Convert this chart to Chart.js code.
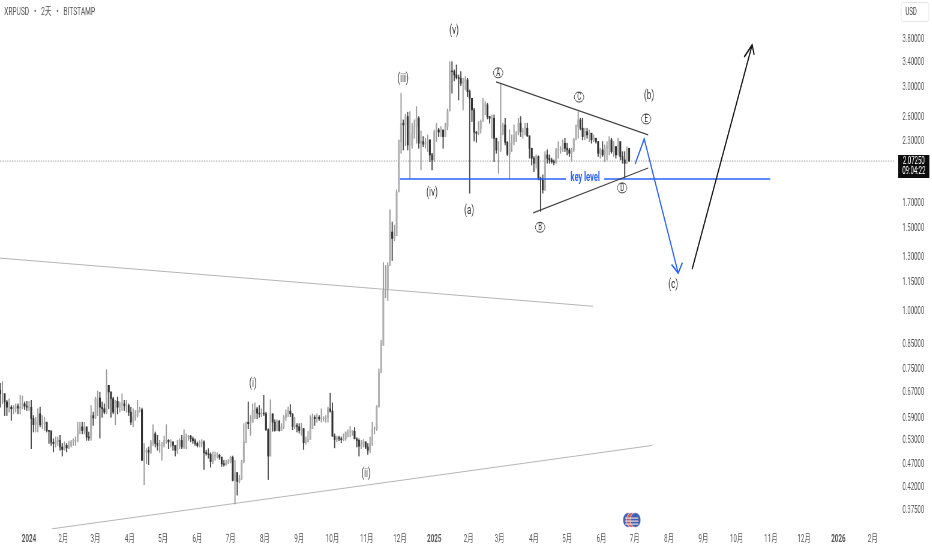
<!DOCTYPE html>
<html>
<head>
<meta charset="utf-8">
<title>XRPUSD</title>
<script src="https://cdn.jsdelivr.net/npm/chart.js@4/dist/chart.umd.min.js"></script>
<style>
html, body { margin: 0; padding: 0; background: #fff; overflow: hidden; width: 932px; height: 550px; }
/* the reference is a horizontally squeezed screenshot, so the whole canvas gets squeezed too */
#wrap { width: 1554px; height: 550px; transform: scaleX(0.6); transform-origin: 0 0; }
</style>
</head>
<body>
<div id="wrap"><canvas id="chart" width="1554" height="550"></canvas></div>
<script>
// x values are days counted from 2024-01-01, bars are 2 days apart
const firstBarDay = -26;
const barStep = 2;
const firstOpen = 0.67;

const highs = [
  .694,.70,.659,.638,.643,.622,.622,.627,.627,.654,
  .652,.633,.635,.635,.638,.592,.587,.612,.617,.592,
  .587,.573,.550,.550,.528,.533,.533,.537,.516,.520,
  .516,.522,.524,.528,.533,.573,.573,.573,.573,.550,
  .546,.622,.602,.648,.668,.664,.633,.627,.742,.687,
  .665,.648,.638,.648,.633,.659,.638,.638,.627,.617,
  .612,.607,.638,.617,.614,.516,.503,.507,.524,.566,
  .546,.537,.524,.519,.535,.566,.526,.526,.520,.511,
  .524,.528,.537,.552,.541,.537,.537,.533,.528,.520,
  .523,.526,.523,.499,.503,.493,.495,.495,.493,.489,
  .483,.475,.475,.477,.485,.485,.475,.447,.441,.475,
  .569,.573,.633,.592,.627,.630,.617,.622,.612,.654,
  .602,.555,.640,.597,.580,.580,.578,.569,.592,.609,
  .617,.625,.597,.587,.569,.569,.570,.555,.533,.548,
  .592,.597,.592,.597,.592,.612,.589,.592,.617,.661,
  .630,.541,.535,.535,.533,.541,.546,.552,.561,.550,
  .558,.531,.528,.524,.526,.520,.516,.533,.573,.560,
  .622,.745,.857,1.257,1.239,1.257,1.630,1.535,1.512,1.798,
  2.30,2.896,2.538,2.61,2.636,2.644,2.497,2.538,2.71,2.58,
  2.404,2.338,2.319,2.357,2.30,2.153,2.416,2.497,2.436,2.456,
  2.404,2.497,2.68,3.38,3.38,3.246,3.327,3.167,3.22,3.115,
  3.14,3.115,2.942,2.822,2.688,2.396,2.517,2.538,2.822,2.777,
  2.755,2.58,2.601,2.601,2.319,2.281,3.04,2.497,2.559,2.281,
  2.416,2.357,2.476,2.396,2.559,2.58,2.436,2.497,2.497,2.346,
  2.207,2.119,2.136,2.127,1.915,1.936,2.171,2.189,2.136,2.102,
  2.084,2.207,2.281,2.225,2.30,2.319,2.263,2.207,2.207,2.319,
  2.476,2.644,2.559,2.559,2.436,2.436,2.416,2.377,2.357,2.319,
  2.281,2.207,2.281,2.244,2.281,2.338,2.319,2.281,2.225,2.319,
  2.153,2.171,2.171,2.225,2.207
];
const lows = [
  .617,.627,.592,.592,.602,.578,.597,.602,.597,.597,
  .612,.610,.607,.607,.503,.546,.546,.546,.560,.555,
  .550,.546,.516,.511,.495,.507,.511,.499,.485,.499,
  .495,.503,.507,.511,.511,.520,.541,.541,.541,.524,
  .524,.524,.564,.583,.592,.530,.587,.597,.597,.612,
  .587,.597,.566,.597,.602,.607,.607,.602,.592,.566,
  .560,.578,.587,.602,.475,.421,.467,.465,.491,.511,
  .507,.499,.494,.475,.507,.516,.503,.507,.499,.485,
  .491,.503,.503,.503,.503,.524,.520,.516,.511,.507,
  .507,.507,.454,.487,.480,.459,.467,.475,.480,.477,
  .461,.461,.463,.467,.469,.429,.383,.400,.425,.432,
  .469,.518,.555,.537,.573,.583,.583,.587,.589,.592,
  .550,.432,.485,.548,.548,.550,.548,.550,.555,.578,
  .589,.589,.552,.555,.546,.543,.537,.501,.514,.524,
  .537,.555,.564,.573,.578,.573,.576,.573,.573,.602,
  .535,.505,.520,.523,.518,.523,.524,.533,.533,.537,
  .528,.507,.485,.503,.507,.503,.489,.493,.511,.541,
  .550,.622,.731,.887,1.058,1.043,1.239,1.27,1.400,1.435,
  1.813,2.153,2.189,2.236,2.189,1.898,2.207,2.319,2.263,2.207,
  1.984,2.225,2.207,2.171,2.067,1.984,2.067,2.281,2.338,2.338,
  2.207,2.338,2.416,2.653,2.896,3.075,3.104,2.80,3.005,2.666,
  2.942,2.846,1.769,2.517,2.289,2.274,2.357,2.377,2.538,2.601,
  2.55,2.497,2.319,2.067,2.153,1.952,2.171,2.357,2.244,2.129,
  1.898,2.171,2.244,2.281,2.357,2.338,2.319,2.357,2.338,2.102,
  2.033,1.968,2.0,1.889,1.617,1.769,1.792,2.05,2.05,2.05,
  2.033,2.05,2.102,2.153,2.171,2.171,2.136,2.119,2.067,2.171,
  2.30,2.319,2.416,2.30,2.30,2.319,2.281,2.263,2.281,2.263,
  2.119,2.102,2.119,2.067,2.084,2.136,2.153,2.119,2.102,2.136,
  2.084,2.05,1.905,2.05,2.067
];
const closes = [
  .659,.659,.633,.617,.617,.612,.614,.620,.614,.617,
  .627,.620,.617,.617,.583,.566,.573,.597,.566,.569,
  .573,.550,.548,.519,.516,.520,.524,.507,.501,.511,
  .505,.511,.519,.524,.524,.550,.560,.550,.560,.533,
  .530,.592,.585,.643,.645,.617,.612,.602,.687,.665,
  .643,.602,.635,.617,.627,.627,.622,.622,.602,.573,
  .587,.592,.607,.609,.475,.495,.499,.494,.520,.541,
  .516,.511,.511,.511,.524,.524,.520,.520,.511,.499,
  .511,.524,.507,.533,.533,.535,.528,.523,.516,.511,
  .516,.520,.493,.491,.489,.472,.485,.487,.487,.482,
  .467,.465,.469,.472,.482,.430,.447,.428,.434,.472,
  .520,.573,.569,.573,.607,.612,.599,.597,.599,.597,
  .552,.485,.597,.573,.550,.576,.550,.560,.586,.597,
  .605,.597,.561,.564,.560,.550,.555,.518,.520,.526,
  .555,.587,.583,.587,.583,.583,.583,.586,.612,.605,
  .535,.526,.531,.528,.526,.528,.546,.546,.546,.548,
  .528,.524,.509,.516,.520,.507,.499,.516,.555,.555,
  .617,.731,.836,1.096,1.107,1.239,1.461,1.416,1.435,1.78,
  2.281,2.497,2.476,2.58,2.244,2.244,2.377,2.456,2.559,2.263,
  2.281,2.252,2.274,2.30,2.136,2.084,2.396,2.416,2.39,2.416,
  2.338,2.456,2.653,3.23,3.22,3.167,3.125,3.115,3.04,3.063,
  3.09,2.918,2.822,2.666,2.39,2.377,2.43,2.517,2.732,2.732,
  2.58,2.559,2.559,2.319,2.189,2.189,2.377,2.476,2.274,2.143,
  2.263,2.274,2.357,2.377,2.497,2.396,2.396,2.436,2.346,2.207,
  2.102,2.05,2.119,1.905,1.889,1.798,2.136,2.102,2.084,2.067,
  2.057,2.189,2.189,2.196,2.263,2.207,2.189,2.153,2.189,2.308,
  2.456,2.538,2.436,2.338,2.396,2.357,2.377,2.30,2.319,2.281,
  2.153,2.189,2.136,2.207,2.225,2.30,2.171,2.225,2.136,2.281,
  2.119,2.084,2.05,2.207,2.0725
];

const lastPrice = 2.0725;
const countdown = '09:04:22';

const priceTicks = [3.8, 3.4, 3.0, 2.6, 2.3, 1.7, 1.5, 1.3, 1.15, 1.0, 0.85, 0.75, 0.67, 0.59, 0.53, 0.47, 0.42, 0.375];
const dayTicks = [0, 31, 60, 91, 121, 152, 182, 213, 244, 274, 305, 335, 366, 397, 425, 456, 486, 517, 547, 578, 609, 639, 670, 700, 731, 762];
const dayTickLabels = ['2024', '2月', '3月', '4月', '5月', '6月', '7月', '8月', '9月', '10月', '11月', '12月', '2025', '2月', '3月', '4月', '5月', '6月', '7月', '8月', '9月', '10月', '11月', '12月', '2026', '2月'];

// drawn lines as [day, price]
const lastPriceLine = [[-26.2, lastPrice], [782.3, lastPrice]];
const keyLevelLeft = [[335.1, 1.897], [485, 1.897]];
const keyLevelRight = [[519.4, 1.897], [669.4, 1.897]];
const triangleUpper = [[421.9, 3.06], [559.2, 2.357]];
const triangleLower = [[455.3, 1.606], [559.2, 2.003]];
const channelUpper = [[-26.2, 1.285], [509.5, 1.014]];
const channelLower = [[20.8, 0.339], [562.8, 0.511]];
const bluePath = [[547.4, 2.043], [555.6, 2.311], [586.3, 1.194]];
const blueHead = [[580.3, 1.245], [586.3, 1.194], [590.1, 1.257]];
const blackPath = [[598.9, 1.218], [653.1, 3.672]];
const blackHead = [[645.9, 3.46], [653.1, 3.672], [654.9, 3.495]];

const waveLabels = ['(v)', '(iii)', '(iv)', '(a)', '(b)', '(c)', '(i)', '(ii)'];
const waveDays = [383.9, 337.8, 364, 397.5, 560, 581.8, 202.3, 304.4];
const wavePrices = [3.93, 3.105, 1.77, 1.625, 2.856, 1.129, 0.694, 0.445];

const circleLabels = ['A', 'B', 'C', 'D', 'E'];
const circleDays = [423.7, 461.6, 496.8, 535.7, 557.4];
const circlePrices = [3.2, 1.496, 2.84, 1.816, 2.55];

const keyLevelText = ['key level', 502.3, 1.905];

const FONT = 'Roboto, "Noto Sans CJK SC", sans-serif';
const UP = '#b0b0b0';
const DOWN = '#333333';
const BLUE = '#2962ff';

const barDays = closes.map((c, i) => firstBarDay + barStep * i);
const opens = closes.map((c, i) => i === 0 ? firstOpen : closes[i - 1]);
const isUp = closes.map((c, i) => c >= opens[i]);

function toXY(points) {
    return points.map(p => ({ x: p[0], y: p[1] }));
}

function lineSet(points, color, width, order, dash) {
    return {
        type: 'line',
        data: toXY(points),
        borderColor: color,
        borderWidth: width,
        borderDash: dash || [],
        pointRadius: 0,
        tension: 0,
        fill: false,
        clip: false,
        order: order
    };
}

const textPlugin = {
    id: 'textPlugin',
    afterDraw(chart) {
        const ctx = chart.ctx;
        const xs = chart.scales.x;
        const ys = chart.scales.y;

        ctx.save();
        ctx.textBaseline = 'middle';

        // header
        ctx.textAlign = 'left';
        ctx.fillStyle = '#555';
        ctx.font = '11px ' + FONT;
        ctx.fillText('XRPUSD   •   2天   •   BITSTAMP', 7, 12);

        // wave labels
        ctx.textAlign = 'center';
        ctx.fillStyle = '#333';
        ctx.font = '13.5px ' + FONT;
        waveLabels.forEach((t, i) => {
            ctx.fillText(t, xs.getPixelForValue(waveDays[i]), ys.getPixelForValue(wavePrices[i]));
        });

        // circled triangle labels
        ctx.font = '10px ' + FONT;
        circleLabels.forEach((t, i) => {
            const x = xs.getPixelForValue(circleDays[i]);
            const y = ys.getPixelForValue(circlePrices[i]);
            ctx.beginPath();
            ctx.ellipse(x, y, 8, 5, 0, 0, Math.PI * 2);
            ctx.strokeStyle = '#333';
            ctx.lineWidth = 0.9;
            ctx.stroke();
            ctx.fillText(t, x, y + 0.5);
        });

        ctx.fillStyle = BLUE;
        ctx.font = 'bold 12.5px ' + FONT;
        ctx.fillText(keyLevelText[0], xs.getPixelForValue(keyLevelText[1]), ys.getPixelForValue(keyLevelText[2]));

        // USD box
        ctx.strokeStyle = '#e6e6e6';
        ctx.lineWidth = 1;
        ctx.beginPath();
        ctx.roundRect(1502, 2.5, 46, 19, 3);
        ctx.stroke();
        ctx.fillStyle = '#444';
        ctx.textAlign = 'left';
        ctx.font = '10px ' + FONT;
        ctx.fillText('USD', 1509, 12.5);

        // last price box
        ctx.fillStyle = '#0d0d0d';
        ctx.fillRect(1497, 155, 52, 23);
        ctx.fillStyle = '#fff';
        ctx.textAlign = 'center';
        ctx.fillText(lastPrice.toFixed(5), 1523, 161);
        ctx.fillText(countdown, 1523, 171.5);

        // little flag badge on the time axis
        [[1047, '#3f62b5'], [1053, '#d9534f'], [1059, '#3f62b5']].forEach(b => {
            ctx.beginPath();
            ctx.ellipse(b[0], 520, 9, 7.5, 0, 0, Math.PI * 2);
            ctx.fillStyle = b[1];
            ctx.fill();
            ctx.strokeStyle = '#fff';
            ctx.lineWidth = 0.8;
            ctx.stroke();
        });
        ctx.fillStyle = '#f4d6d4';
        ctx.fillRect(1042, 517.5, 22, 1.2);
        ctx.fillRect(1042, 520.5, 22, 1.2);
        ctx.fillRect(1042, 523.5, 22, 1.2);

        ctx.restore();
    }
};

new Chart(document.getElementById('chart'), {
    type: 'bar',
    data: {
        datasets: [
            lineSet(channelUpper, '#b5b5b5', 1, 9),
            lineSet(channelLower, '#b5b5b5', 1, 9),
            lineSet(lastPriceLine, '#8c8c8c', 0.8, 8, [2, 2]),
            {
                data: barDays.map((d, i) => ({ x: d, y: [lows[i], highs[i]] })),
                backgroundColor: isUp.map(u => u ? '#999' : '#4a4a4a'),
                barThickness: 1.3,
                grouped: false,
                order: 7
            },
            {
                data: barDays.map((d, i) => ({ x: d, y: [opens[i], closes[i]] })),
                backgroundColor: isUp.map(u => u ? UP : DOWN),
                barThickness: 2.5,
                grouped: false,
                order: 6
            },
            lineSet(keyLevelLeft, BLUE, 1.6, 3),
            lineSet(keyLevelRight, BLUE, 1.6, 3),
            lineSet(triangleUpper, '#3e3e3e', 1.2, 2),
            lineSet(triangleLower, '#3e3e3e', 1.2, 2),
            lineSet(bluePath, BLUE, 1.9, 1),
            lineSet(blueHead, BLUE, 1.9, 1),
            lineSet(blackPath, '#111', 1.9, 1),
            lineSet(blackHead, '#111', 1.9, 1)
        ]
    },
    options: {
        responsive: false,
        animation: false,
        devicePixelRatio: 1,
        events: [],
        layout: { padding: 0 },
        plugins: { legend: { display: false }, tooltip: { enabled: false }, title: { display: false } },
        scales: {
            x: {
                type: 'linear',
                min: -26.2,
                max: 782.3,
                offset: false,
                bounds: 'data',
                grid: { display: false, drawTicks: false },
                border: { display: false },
                afterBuildTicks(scale) { scale.ticks = dayTicks.map(v => ({ value: v })); },
                afterFit(scale) { scale.height = 20; scale.paddingLeft = 0; scale.paddingRight = 0; },
                ticks: {
                    autoSkip: false,
                    maxRotation: 0,
                    padding: 3,
                    color: '#555',
                    font: ctx => ({
                        family: FONT,
                        size: 10.5,
                        weight: /^\d{4}$/.test(dayTickLabels[ctx.index] || '') ? 'bold' : 'normal'
                    }),
                    callback: (v, i) => dayTickLabels[i]
                }
            },
            y: {
                type: 'logarithmic',
                position: 'right',
                min: 0.337,
                max: 4.58,
                bounds: 'data',
                grid: { display: false, drawTicks: false },
                border: { display: false },
                afterBuildTicks(scale) { scale.ticks = priceTicks.map(v => ({ value: v })); },
                afterFit(scale) { scale.width = 62; scale.paddingTop = 0; scale.paddingBottom = 0; },
                ticks: {
                    autoSkip: false,
                    padding: 12,
                    labelOffset: 2,
                    color: '#555',
                    font: { family: FONT, size: 10 },
                    callback: v => Number(v).toFixed(5)
                }
            }
        }
    },
    plugins: [textPlugin]
});
</script>
</body>
</html>
